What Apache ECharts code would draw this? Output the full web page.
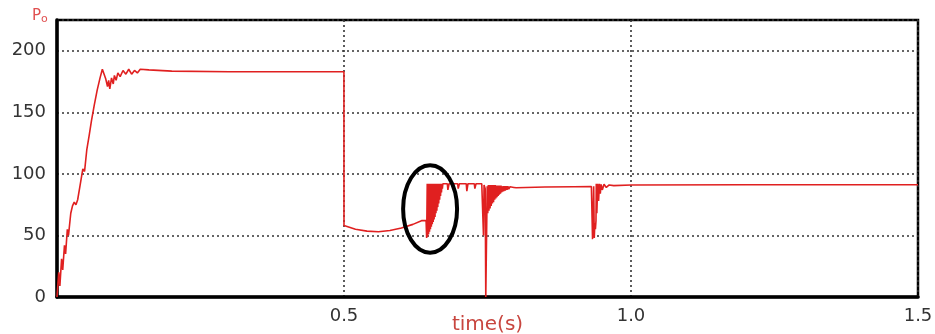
<!DOCTYPE html>
<html>
<head>
<meta charset="utf-8">
<script src="https://cdn.jsdelivr.net/npm/echarts@6/dist/echarts.min.js"></script>
<style>
  html, body { margin: 0; padding: 0; background: #fff; }
  #chart { width: 935px; height: 334px; }
</style>
</head>
<body>
<div id="chart"></div>
<script>
// output power Po vs time as [time, Po]
let startUp = [
    [0, 0], [0.003, 20], [0.005, 9], [0.008, 31], [0.010, 22], [0.013, 42], [0.015, 35],
    [0.018, 55], [0.020, 50], [0.024, 68], [0.027, 74], [0.030, 77], [0.033, 75],
    [0.036, 79], [0.040, 90], [0.045, 104], [0.048, 102], [0.052, 120], [0.056, 131],
    [0.060, 143], [0.065, 156], [0.070, 168], [0.075, 178], [0.079, 185], [0.082, 184],
    [0.085, 177], [0.088, 171], [0.090, 176], [0.092, 169], [0.095, 178], [0.098, 173],
    [0.100, 180], [0.103, 176], [0.106, 182], [0.110, 179], [0.115, 184], [0.120, 181],
    [0.125, 185], [0.130, 181], [0.135, 184], [0.140, 182], [0.145, 185], [0.160, 184.5],
    [0.200, 183.5], [0.300, 183], [0.4999, 183]
];
let afterStep = [
    [0.5, 58], [0.502, 57], [0.520, 55], [0.540, 53.5], [0.560, 53], [0.580, 54],
    [0.600, 56], [0.620, 59], [0.635, 62], [0.643, 62]
];
// dense ripple inside the circled region
let rippleA = [
    [0.644, 48], [0.645, 92], [0.6458, 49], [0.6466, 92], [0.6474, 51], [0.6482, 92],
    [0.649, 53], [0.6498, 92], [0.6506, 55], [0.6514, 92], [0.6522, 57], [0.653, 92],
    [0.6538, 59], [0.6546, 92], [0.6554, 61], [0.6562, 92], [0.657, 63], [0.6578, 92],
    [0.6586, 65], [0.6594, 92], [0.6602, 68], [0.661, 92], [0.6618, 70], [0.6626, 92],
    [0.6634, 73], [0.6642, 92], [0.665, 76], [0.6658, 92], [0.6666, 79], [0.6674, 92],
    [0.6682, 82], [0.669, 92], [0.6698, 85], [0.6706, 92], [0.6714, 88], [0.6722, 92],
    [0.680, 92], [0.681, 87], [0.683, 92], [0.698, 92], [0.699, 88], [0.701, 92],
    [0.713, 92], [0.714, 86], [0.716, 92], [0.727, 92], [0.728, 88], [0.730, 92], [0.740, 92]
];
// deep dip and decaying ripple
let rippleB = [
    [0.742, 91], [0.743, 50], [0.744, 91], [0.746, 88], [0.747, 0], [0.749, 0],
    [0.7495, 90], [0.7505, 68], [0.7515, 91], [0.7525, 70], [0.7535, 91], [0.7545, 72],
    [0.7555, 91], [0.7565, 74], [0.7575, 91], [0.7585, 76], [0.7595, 91], [0.7605, 77],
    [0.7615, 91], [0.7625, 79], [0.7635, 91], [0.7645, 80], [0.7655, 90.5], [0.7665, 81],
    [0.7675, 90.5], [0.7685, 82], [0.7695, 90.5], [0.7705, 83], [0.7715, 90.5], [0.7725, 84],
    [0.7735, 90.5], [0.7745, 85], [0.7755, 90], [0.7765, 85.5], [0.7775, 90], [0.7785, 86],
    [0.7795, 90], [0.781, 86.5], [0.7825, 90], [0.784, 87], [0.7855, 90], [0.787, 87.5],
    [0.789, 89.5], [0.792, 88], [0.796, 89], [0.800, 88.7], [0.850, 89.3], [0.900, 89.6],
    [0.931, 89.8]
];
let rippleC = [
    [0.932, 90], [0.933, 47], [0.934, 46], [0.935, 90], [0.936, 48], [0.937, 60],
    [0.938, 55], [0.939, 62], [0.9395, 92], [0.9405, 68], [0.942, 92], [0.9435, 78],
    [0.945, 92], [0.9465, 84], [0.948, 91.5], [0.950, 87], [0.953, 91.5], [0.957, 89],
    [0.962, 91], [0.970, 90.5], [1.0, 91], [1.2, 91.2], [1.5, 91.2]
];
let powerData = startUp.concat(afterStep, rippleA, rippleB, rippleC);

let xTicks = [0, 0.5, 1.0, 1.5];
let yTicks = [0, 50, 100, 150, 200];
// circled region, in data units (centre time, centre Po, half width, half height)
let circleMark = { t: 0.650, p: 71.5, dt: 0.047, dp: 35.5 };

let chart = echarts.init(document.getElementById('chart'));

let gridLine = {
    show: true,
    lineStyle: { color: '#333', width: 1.6, type: [2, 3] }
};

let option = {
    animation: false,
    backgroundColor: '#fff',
    textStyle: { fontFamily: 'DejaVu Sans' },
    title: {
        text: '{p|P}{o|o}',
        left: 27,
        top: 2,
        textStyle: {
            rich: {
                p: { fontSize: 15, fontWeight: 'normal', color: '#e05050', fontFamily: 'DejaVu Sans' },
                o: { fontSize: 11, fontWeight: 'normal', color: '#e05050', fontFamily: 'DejaVu Sans', padding: [7, 0, 0, 0] }
            }
        }
    },
    grid: {
        left: 57,
        right: 17,
        top: 20,
        bottom: 37,
        outerBoundsMode: 'none',
        containLabel: false,
        show: true,
        borderColor: '#000',
        borderWidth: 2.5
    },
    xAxis: {
        type: 'value',
        min: xTicks[0],
        max: xTicks[xTicks.length - 1],
        interval: 0.5,
        name: 'time(s)',
        nameLocation: 'middle',
        nameGap: 18,
        nameMoveOverlap: false,
        nameTextStyle: { color: '#c8463f', fontSize: 20, fontFamily: 'DejaVu Sans', verticalAlign: 'top' },
        axisLine: { show: true, onZero: false, lineStyle: { color: '#000', width: 3.5 } },
        axisTick: { show: false },
        axisLabel: {
            showMinLabel: false,
            color: '#333',
            fontSize: 18,
            margin: 10,
            formatter: v => v.toFixed(1)
        },
        splitLine: gridLine
    },
    yAxis: {
        type: 'value',
        min: yTicks[0],
        max: 225,
        interval: 50,
        axisLine: { show: true, lineStyle: { color: '#000', width: 3.5 } },
        axisTick: { show: false },
        axisLabel: {
            showMaxLabel: false,
            color: '#333',
            fontSize: 18,
            margin: 11
        },
        splitLine: gridLine
    },
    series: [
        {
            name: 'Po',
            type: 'line',
            data: powerData,
            showSymbol: false,
            sampling: null,
            lineStyle: { color: '#e02020', width: 1.6 },
            z: 3
        }
    ]
};
chart.setOption(option);

// black ellipse around the ripple, placed from data coordinates
let c = chart.convertToPixel({ gridIndex: 0 }, [circleMark.t, circleMark.p]);
let e = chart.convertToPixel({ gridIndex: 0 }, [circleMark.t + circleMark.dt, circleMark.p + circleMark.dp]);
chart.setOption({
    graphic: [{
        type: 'ellipse',
        shape: { cx: c[0], cy: c[1], rx: Math.abs(e[0] - c[0]), ry: Math.abs(c[1] - e[1]) },
        style: { fill: null, stroke: '#000', lineWidth: 4 },
        z: 10
    }]
});
</script>
</body>
</html>
